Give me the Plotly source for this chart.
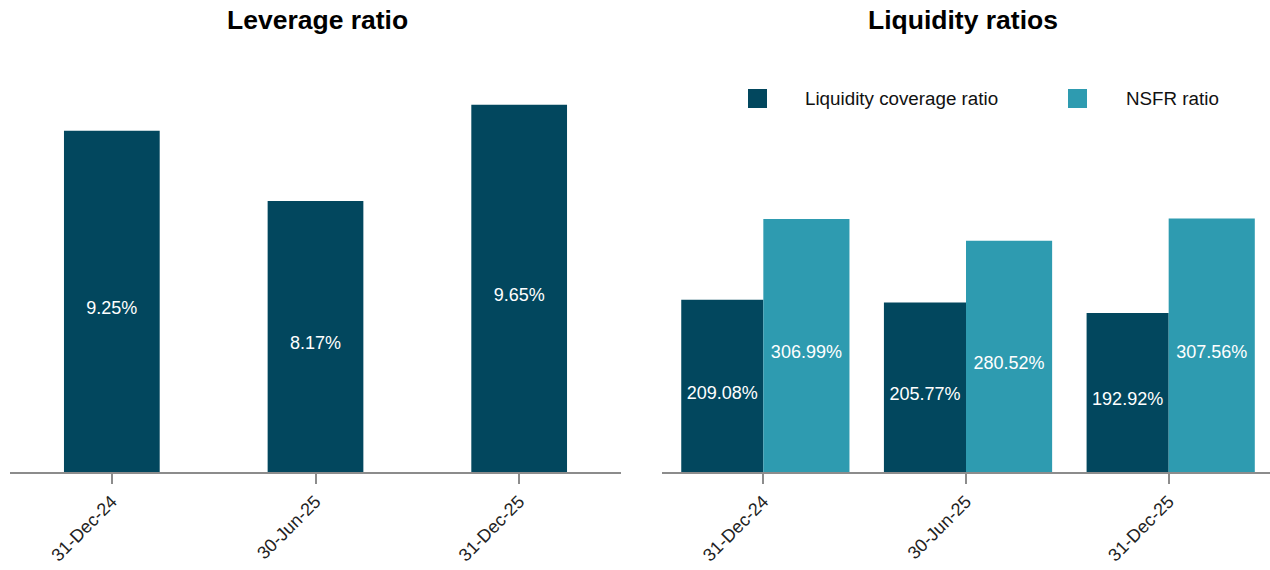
import plotly.graph_objects as go

W, H = 1270, 570

dates = ["31-Dec-24", "30-Jun-25", "31-Dec-25"]
leverage = [9.25, 8.17, 9.65]
lcr = [209.08, 205.77, 192.92]
nsfr = [306.99, 280.52, 307.56]
lev_axis_base = 4.0

DARK = "#02475E"
TEAL = "#2E9BB0"
FONT = "Liberation Sans, Arial, sans-serif"

def px_x(x):
    return x / W

def px_y(y):
    return 1 - y / H

def labels(vals):
    return [f"<span style='font-size:7px'> </span><br>{v:.2f}%" for v in vals]

txtfont = dict(color="white", size=18, family=FONT)

fig = go.Figure()

fig.add_trace(go.Bar(
    x=dates, y=[v - lev_axis_base for v in leverage], base=lev_axis_base,
    marker=dict(color=DARK, line=dict(width=0)), width=0.47,
    text=labels(leverage), texttemplate="%{text}", textposition="inside", insidetextanchor="middle",
    textangle=0, textfont=txtfont,
    xaxis="x", yaxis="y", showlegend=False, hoverinfo="skip",
))
fig.add_trace(go.Bar(
    x=dates, y=lcr, marker=dict(color=DARK, line=dict(width=0)), width=0.405, offset=-0.405,
    text=labels(lcr), texttemplate="%{text}", textposition="inside", insidetextanchor="middle",
    textangle=0, textfont=txtfont,
    xaxis="x2", yaxis="y2", showlegend=False, hoverinfo="skip",
))
fig.add_trace(go.Bar(
    x=dates, y=nsfr, marker=dict(color=TEAL, line=dict(width=0)), width=0.425, offset=0,
    text=labels(nsfr), texttemplate="%{text}", textposition="inside", insidetextanchor="middle",
    textangle=0, textfont=txtfont,
    xaxis="x2", yaxis="y2", showlegend=False, hoverinfo="skip",
))

ydom = [px_y(472), px_y(60)]
axis_common = dict(
    showline=True, linecolor="#8c8c8c", linewidth=2,
    ticks="outside", ticklen=10, tickcolor="#8c8c8c", tickwidth=2,
    tickangle=-45, tickfont=dict(size=18, color="#222", family=FONT),
    showgrid=False, zeroline=False, automargin=False,
    range=[-0.5, 2.5], type="category",
)

fig.update_layout(
    width=W, height=H,
    margin=dict(l=0, r=0, t=0, b=0),
    paper_bgcolor="white", plot_bgcolor="white",
    barmode="overlay",
    font=dict(family=FONT),
    xaxis=dict(domain=[px_x(10), px_x(621)], anchor="y", **axis_common),
    xaxis2=dict(domain=[px_x(662), 1.0], anchor="y2", **axis_common),
    yaxis=dict(domain=ydom, range=[lev_axis_base, lev_axis_base + 412 / 65], visible=False, anchor="x"),
    yaxis2=dict(domain=ydom, range=[0, 412 / 0.824], visible=False, anchor="x2"),
    showlegend=False,
)

# Titles
fig.add_annotation(text="<b>Leverage ratio</b>", x=px_x(317), y=px_y(20), xref="paper", yref="paper",
                   showarrow=False, xanchor="center", yanchor="middle",
                   font=dict(size=26.5, color="#000", family=FONT))
fig.add_annotation(text="<b>Liquidity ratios</b>", x=px_x(963), y=px_y(20), xref="paper", yref="paper",
                   showarrow=False, xanchor="center", yanchor="middle",
                   font=dict(size=26.5, color="#000", family=FONT))

# Legend (custom)
legend_items = [("Liquidity coverage ratio", DARK, 748, 803), ("NSFR ratio", TEAL, 1068, 1124)]
for name, col, sx, tx in legend_items:
    fig.add_shape(type="rect", xref="paper", yref="paper",
                  x0=px_x(sx), x1=px_x(sx + 19), y0=px_y(108), y1=px_y(89),
                  fillcolor=col, line=dict(width=0))
    fig.add_annotation(text=name, x=px_x(tx), y=px_y(98.5), xref="paper", yref="paper",
                       showarrow=False, xanchor="left", yanchor="middle",
                       font=dict(size=18.8, color="#111", family=FONT))

fig.write_html("out.html")
